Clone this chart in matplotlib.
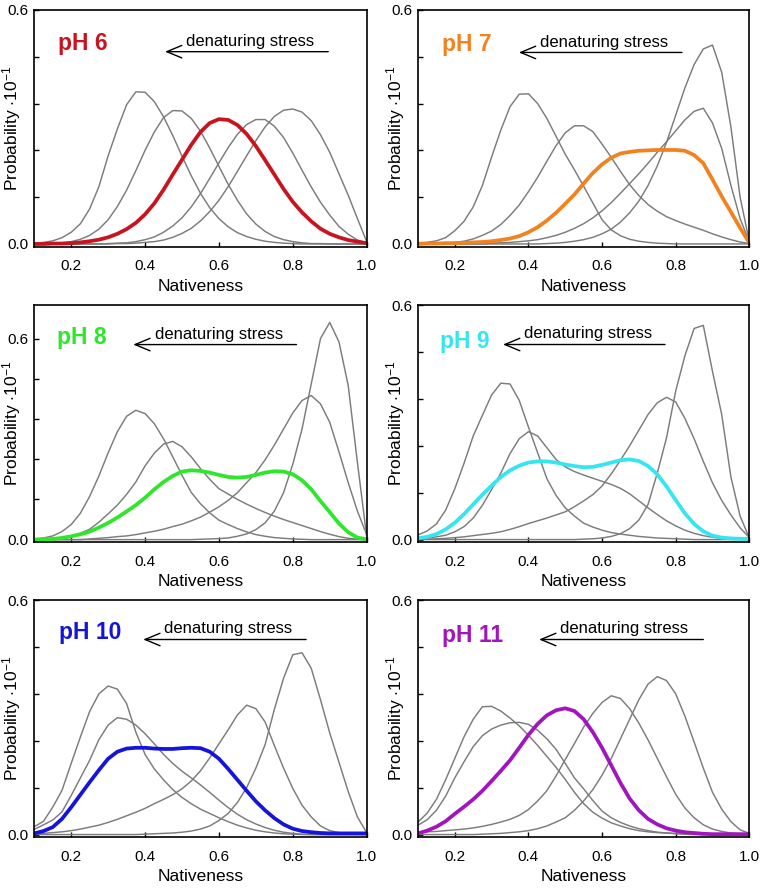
import matplotlib
matplotlib.use("Agg")
import matplotlib.pyplot as plt

plt.rcParams['font.family'] = ['Liberation Sans', 'DejaVu Sans']
plt.rcParams['mathtext.fontset'] = 'custom'
plt.rcParams['mathtext.rm'] = 'Liberation Sans'

# nativeness grid shared by all curves
nativeness = [0.100, 0.125, 0.150, 0.175, 0.200, 0.225, 0.250, 0.275, 0.300, 0.325,
              0.350, 0.375, 0.400, 0.425, 0.450, 0.475, 0.500, 0.525, 0.550, 0.575,
              0.600, 0.625, 0.650, 0.675, 0.700, 0.725, 0.750, 0.775, 0.800, 0.825,
              0.850, 0.875, 0.900, 0.925, 0.950, 0.975, 1.000]

# pH 6
ph6_grey_a = [.002, .004, .008, .016, .030, .052, .090, .147, .226, .295, .357, .390, .389, .365, .326, .278,
              .225, .175, .130, .093, .065, .044, .029, .019, .012, .007, .004, .002, .001, 0, 0, 0, 0, 0, 0, 0, 0]
ph6_grey_b = [0, .001, .001, .003, .006, .012, .022, .038, .062, .096, .138, .188, .240, .287, .324, .342,
              .341, .322, .289, .246, .199, .153, .112, .077, .051, .032, .019, .011, .006, .003, .001, .001, 0, 0, 0, 0, 0]
ph6_grey_c = [0, 0, 0, 0, 0, 0, 0, 0, .001, .002, .003, .006, .011, .018, .030, .046, .067, .095, .129, .168,
              .208, .247, .281, .306, .319, .319, .302, .273, .233, .189, .146, .107, .074, .045, .025, .010, .002]
ph6_grey_d = [0, 0, 0, 0, 0, 0, 0, 0, 0, .001, .001, .002, .004, .006, .010, .017, .027, .040, .059, .083,
              .112, .147, .186, .226, .265, .300, .327, .343, .346, .338, .316, .280, .235, .180, .125, .065, .006]
ph6_mean = [0, 0, .001, .001, .002, .004, .007, .011, .017, .026, .038, .054, .076, .104, .139, .178, .216,
            .254, .287, .310, .320, .318, .305, .282, .251, .215, .178, .141, .108, .081, .058, .039, .026,
            .017, .010, .006, .002]

# pH 7
ph7_grey_a = [.002, .004, .008, .016, .034, .058, .095, .150, .223, .292, .352, .384, .385, .360, .322, .276,
              .230, .190, .148, .105, .062, .036, .021, .012, .007, .004, .002, .001, 0, 0, 0, 0, 0, 0, 0, 0, 0]
ph7_grey_b = [0, 0, .001, .002, .004, .007, .013, .022, .033, .050, .073, .100, .134, .171, .212, .252, .285,
              .303, .303, .288, .256, .222, .186, .152, .124, .101, .084, .070, .060, .051, .043, .035, .026,
              .018, .011, .005, .001]
ph7_grey_c = [0, 0, 0, 0, 0, 0, 0, 0, .002, .003, .004, .006, .008, .011, .016, .022, .030, .040, .052, .067,
              .085, .106, .130, .155, .180, .207, .235, .262, .290, .318, .340, .348, .310, .245, .150, .065, .005]
ph7_grey_d = [0, 0, 0, 0, 0, 0, 0, 0, 0, 0, 0, 0, 0, 0, .001, .002, .004, .007, .011, .017, .026, .038, .056,
              .080, .110, .150, .200, .260, .330, .400, .460, .500, .510, .440, .300, .120, .006]
ph7_mean = [.001, .001, .001, .002, .002, .003, .004, .005, .007, .010, .014, .020, .030, .043, .060, .080,
            .103, .127, .155, .182, .204, .221, .232, .236, .239, .240, .241, .241, .241, .239, .228, .207,
            .165, .122, .082, .041, .003]

# pH 8
ph8_grey_a = [.002, .005, .011, .024, .045, .079, .129, .190, .259, .322, .368, .386, .376, .346, .301, .247,
              .192, .141, .107, .080, .058, .045, .033, .023, .015, .010, .006, .004, .002, .001, 0, 0, 0, 0, 0, 0, 0]
ph8_grey_b = [.001, .002, .003, .006, .011, .019, .031, .052, .077, .103, .135, .172, .220, .258, .285, .293,
              .277, .247, .212, .180, .152, .136, .120, .106, .093, .081, .070, .060, .051, .042, .033, .024,
              .016, .009, .004, .001, 0]
ph8_grey_c = [0, 0, 0, 0, 0, 0, .002, .004, .006, .009, .011, .015, .020, .025, .031, .039, .046, .056, .067,
              .082, .098, .117, .140, .170, .200, .238, .282, .330, .378, .415, .430, .405, .350, .262, .170,
              .085, .015]
ph8_grey_d = [0, 0, 0, 0, 0, 0, 0, 0, 0, 0, 0, 0, 0, 0, 0, 0, 0, 0, .001, .002, .003, .005, .010, .017, .030,
              .050, .085, .140, .225, .330, .465, .600, .648, .590, .460, .230, .010]
ph8_mean = [0, .001, .002, .005, .010, .016, .024, .036, .050, .066, .084, .103, .125, .150, .172, .190, .203,
            .207, .205, .200, .193, .187, .185, .187, .193, .200, .204, .203, .195, .177, .150, .115, .082,
            .048, .022, .006, .001]

# pH 9
ph9_grey_a = [.012, .022, .040, .075, .130, .195, .265, .318, .370, .400, .398, .356, .288, .222, .156, .113,
              .081, .060, .042, .032, .024, .018, .014, .011, .008, .006, .004, .003, .002, .001, 0, 0, 0, 0, 0, 0, 0]
ph9_grey_b = [.002, .004, .007, .011, .020, .033, .055, .088, .128, .170, .220, .258, .276, .265, .235, .205,
              .186, .174, .165, .157, .149, .141, .131, .117, .099, .081, .064, .048, .035, .024, .016, .010,
              .006, .003, .002, .001, 0]
ph9_grey_c = [0, .001, .002, .003, .005, .007, .010, .013, .016, .020, .026, .033, .041, .048, .055, .063, .071,
              .084, .099, .115, .137, .168, .203, .240, .280, .320, .350, .364, .352, .310, .258, .200, .145,
              .100, .063, .030, .005]
ph9_grey_d = [0, 0, 0, 0, 0, 0, 0, 0, 0, 0, 0, 0, 0, 0, 0, 0, 0, 0, .001, .002, .004, .008, .015, .028, .050,
              .090, .170, .260, .380, .470, .540, .548, .430, .320, .160, .060, .004]
ph9_mean = [.003, .007, .014, .026, .043, .065, .090, .115, .138, .160, .177, .189, .197, .200, .200, .197,
            .192, .188, .185, .186, .191, .197, .203, .205, .201, .188, .167, .136, .101, .067, .040, .021,
            .010, .005, .003, .002, .002]

# pH 10
ph10_grey_a = [.020, .034, .070, .113, .182, .250, .315, .360, .380, .372, .335, .262, .205, .168, .140, .115,
               .095, .079, .065, .054, .043, .033, .024, .017, .011, .007, .004, .002, .001, 0, 0, 0, 0, 0, 0, 0, 0]
ph10_grey_b = [.013, .025, .037, .058, .100, .145, .190, .243, .280, .299, .295, .280, .258, .232, .205, .182,
               .162, .145, .127, .108, .088, .069, .052, .038, .027, .018, .011, .006, .003, .001, 0, 0, 0, 0, 0, 0, 0]
ph10_grey_c = [.002, .003, .005, .007, .010, .014, .019, .024, .031, .039, .048, .057, .067, .079, .090, .102,
               .117, .137, .163, .196, .232, .268, .306, .331, .322, .288, .228, .170, .118, .075, .045, .022,
               .010, .005, .002, .001, 0]
ph10_grey_d = [0, 0, 0, 0, 0, 0, 0, 0, 0, 0, 0, 0, .001, .002, .003, .004, .006, .009, .014, .022, .036, .054,
               .082, .120, .170, .230, .320, .400, .460, .465, .425, .345, .260, .185, .110, .045, .005]
ph10_mean = [.003, .009, .019, .040, .070, .102, .134, .165, .194, .212, .220, .222, .222, .220, .219, .219,
             .221, .222, .221, .212, .194, .168, .140, .112, .085, .062, .042, .026, .015, .009, .006, .004,
             .003, .003, .003, .003, .003]

# pH 11
ph11_grey_a = [.032, .055, .090, .140, .195, .250, .295, .327, .328, .316, .298, .278, .254, .228, .200, .172,
               .141, .108, .079, .057, .042, .030, .022, .015, .010, .007, .005, .004, .003, .002, .001, 0, 0, 0, 0, 0, 0]
ph11_grey_b = [.024, .038, .062, .098, .145, .186, .225, .253, .270, .280, .286, .287, .282, .267, .245, .218,
               .182, .145, .117, .087, .060, .043, .031, .022, .015, .010, .006, .004, .002, .001, 0, 0, 0, 0, 0, 0, 0]
ph11_grey_c = [.006, .007, .008, .010, .012, .014, .017, .021, .026, .032, .039, .049, .064, .086, .112, .150,
               .192, .233, .275, .310, .338, .355, .348, .322, .285, .242, .195, .148, .103, .068, .043, .025,
               .014, .008, .004, .002, .001]
ph11_grey_d = [0, 0, 0, 0, 0, 0, 0, .001, .002, .003, .005, .007, .010, .015, .022, .032, .043, .062, .086, .115,
               .152, .195, .245, .295, .345, .385, .404, .394, .360, .303, .237, .170, .108, .065, .033, .012, .003]
ph11_mean = [.003, .010, .020, .034, .053, .071, .090, .112, .137, .163, .190, .222, .255, .283, .305, .318,
             .323, .316, .295, .262, .222, .177, .132, .092, .062, .040, .026, .016, .010, .006, .004, .002,
             .001, .001, .001, .001, .001]

ph_labels = ['pH 6', 'pH 7', 'pH 8', 'pH 9', 'pH 10', 'pH 11']
ph_colors = ['#c8141e', '#f28220', '#2ee62a', '#33e6f0', '#1414dc', '#a214be']
grey_curves = [
    [ph6_grey_a, ph6_grey_b, ph6_grey_c, ph6_grey_d],
    [ph7_grey_a, ph7_grey_b, ph7_grey_c, ph7_grey_d],
    [ph8_grey_a, ph8_grey_b, ph8_grey_c, ph8_grey_d],
    [ph9_grey_a, ph9_grey_b, ph9_grey_c, ph9_grey_d],
    [ph10_grey_a, ph10_grey_b, ph10_grey_c, ph10_grey_d],
    [ph11_grey_a, ph11_grey_b, ph11_grey_c, ph11_grey_d],
]
mean_curves = [ph6_mean, ph7_mean, ph8_mean, ph9_mean, ph10_mean, ph11_mean]

# layout (figure fractions) and annotation placement in data units
col_left = [0.0448, 0.5464]
col_width = [0.4345, 0.4331]
row_bottom = [0.7222, 0.3893, 0.0571]
row_height = [0.2666, 0.2672, 0.2672]
y_top = [0.6, 0.6, 0.70, 0.6, 0.6, 0.6]
label_pos = [(.165, .513), (.165, .512), (.162, .603), (.161, .506), (.168, .517), (.165, .510)]
text_pos = [(.683, .519), (.605, .516), (.599, .613), (.562, .526), (.626, .526), (.661, .527)]
arrow_pos = [(.896, .454, .493), (.817, .374, .491), (.810, .368, .582),
             (.771, .331, .499), (.836, .395, .499), (.875, .429, .499)]

fig = plt.figure(figsize=(7.65, 8.88), dpi=100)

for k in range(6):
    row, col = divmod(k, 2)
    ax = fig.add_axes([col_left[col], row_bottom[row], col_width[col], row_height[row]])

    for curve in grey_curves[k]:
        ax.plot(nativeness, curve, color='#7c7c7c', lw=1.05, solid_capstyle='round')
    ax.plot(nativeness, mean_curves[k], color=ph_colors[k], lw=2.7, solid_capstyle='round')

    ax.set_xlim(0.1, 1.0)
    ax.set_ylim(-0.008 if k == 2 else -0.007, y_top[k])
    ax.set_xticks([0.2, 0.4, 0.6, 0.8, 1.0])
    ax.set_xticklabels(['0.2', '0.4', '0.6', '0.8', '1.0'])
    ax.set_yticks([0, 0.12, 0.24, 0.36, 0.48, 0.6])
    ax.set_yticklabels(['0.0', '', '', '', '', '0.6'])
    ax.tick_params(direction='in', length=3.5, width=1.0, labelsize=11)
    ax.tick_params(axis='x', pad=9)
    ax.tick_params(axis='y', pad=4)
    for sp in ax.spines.values():
        sp.set_linewidth(1.2)

    ax.set_xlabel('Nativeness', fontsize=12.5, labelpad=4)
    ax.set_ylabel('Probability $\\cdot\\mathregular{10^{-1}}$', fontsize=12.5)
    ax.yaxis.set_label_coords(-0.034, 0.5)

    lx, ly = label_pos[k]
    ax.text(lx, ly, ph_labels[k], color=ph_colors[k], fontsize=16.5, fontweight='bold',
            ha='left', va='center')
    tx, ty = text_pos[k]
    ax.text(tx, ty, 'denaturing stress', fontsize=12, ha='center', va='center')
    tail, head, ay = arrow_pos[k]
    ax.annotate('', xy=(head, ay), xytext=(tail, ay),
                arrowprops=dict(arrowstyle='->,head_length=0.6,head_width=0.25',
                                lw=1.0, color='black', mutation_scale=18,
                                shrinkA=0, shrinkB=0))

fig.savefig('out.png', dpi=100)
